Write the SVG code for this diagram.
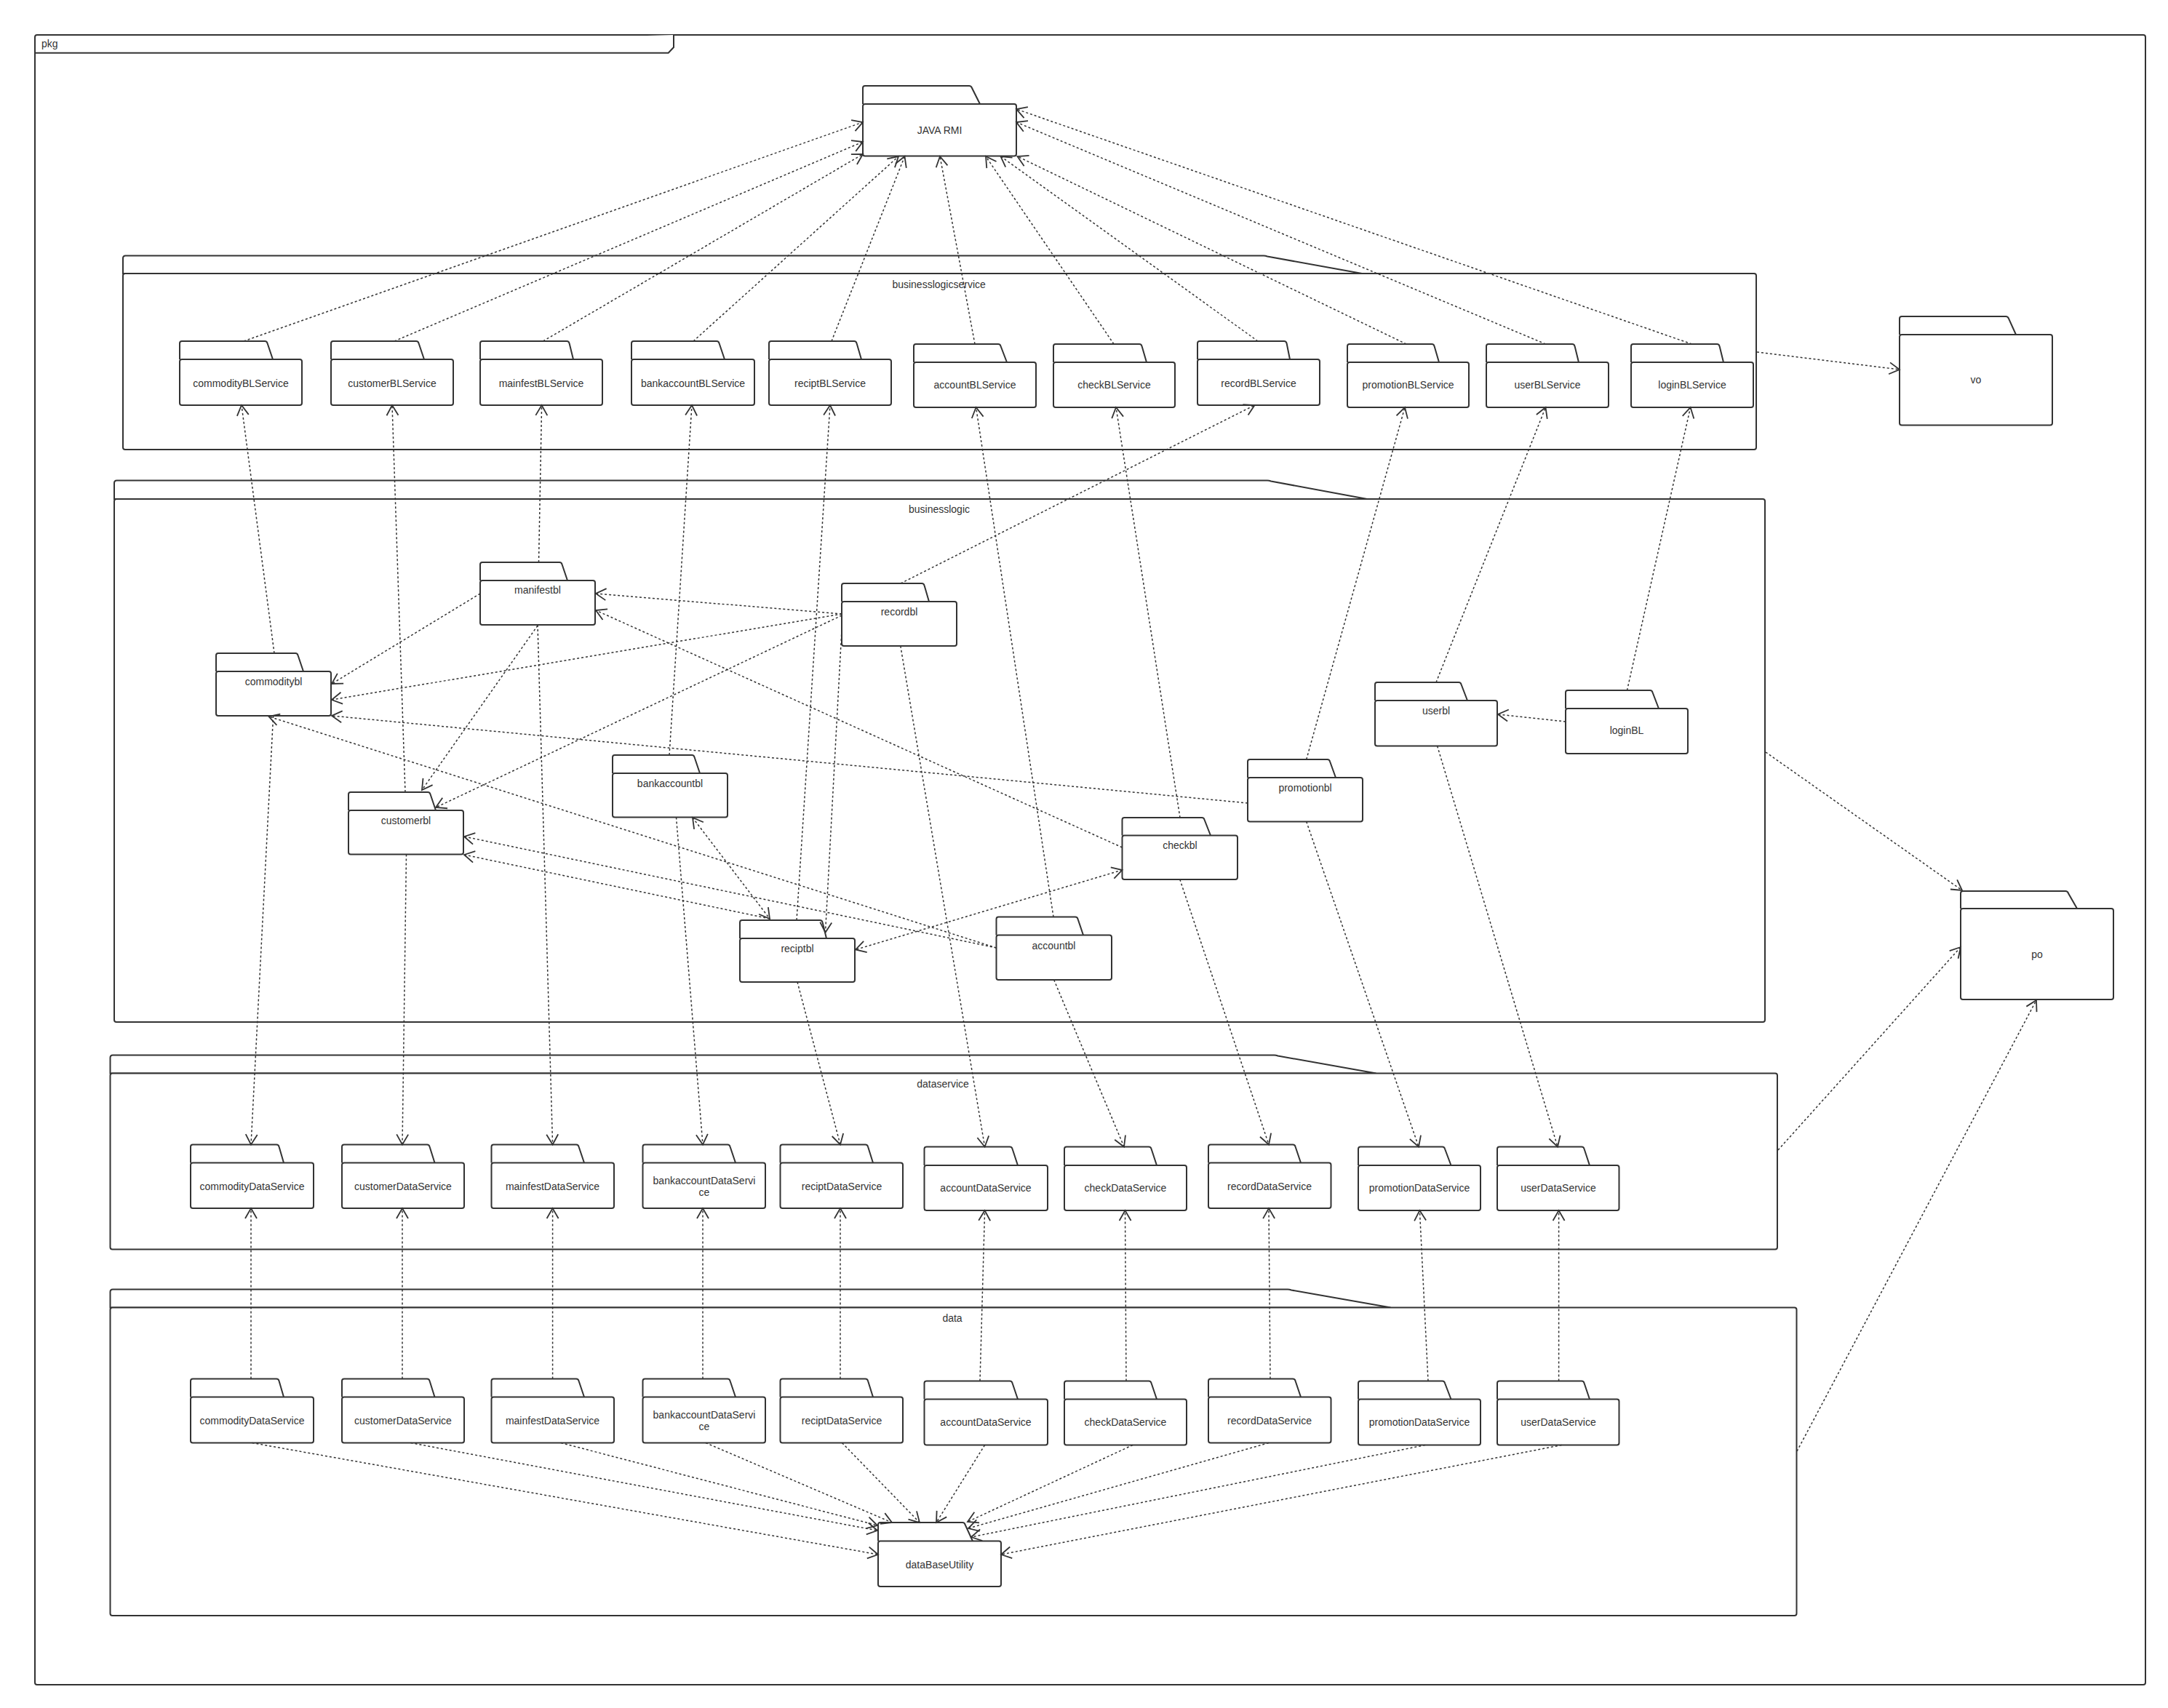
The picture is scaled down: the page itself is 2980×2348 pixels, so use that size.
<svg xmlns="http://www.w3.org/2000/svg" width="2980" height="2348" viewBox="0 0 2980 2348">
<style>
.frame{fill:#fff;stroke:#333;stroke-width:2}
.pk{fill:#fff;stroke:#333;stroke-width:2}
.lbl{font-family:"Liberation Sans",Arial,sans-serif;font-size:14px;fill:#333;text-anchor:middle}
.dep{fill:none;stroke:#333;stroke-width:1.5;stroke-dasharray:3 3;marker-end:url(#arr)}
.bi{marker-start:url(#arr)}
</style>
<defs>
<marker id="arr" markerUnits="userSpaceOnUse" markerWidth="24" markerHeight="24" viewBox="-18 -12 22 24" refX="0" refY="0" orient="auto-start-reverse">
<path d="M-14,-8 L0,0 L-14,8" fill="none" stroke="#333" stroke-width="1.8"/>
</marker>
</defs>
<rect width="2980" height="2348" fill="#fff"/>

<g id="pkg">
<rect class="frame" x="48" y="48" width="2901" height="2268" rx="3"/>
<path class="frame" d="M48,72.7 H918.7 L926,65 V48" fill="none"/>
<text x="57" y="65" class="lbl" style="text-anchor:start">pkg</text>
</g>

<g id="businesslogicservice">
<path class="frame" d="M169,376 V355 Q169,351.5 172.5,351.5 H1737 Q1739.5,351.5 1742,352.5 L1872,376 Z"/>
<rect class="frame" x="169" y="376" width="2245" height="242" rx="3"/>
<text x="1290.6" y="396" class="lbl">businesslogicservice</text>
</g>
<g id="businesslogic">
<path class="frame" d="M157,686 V664 Q157,660.5 160.5,660.5 H1742 Q1744.5,660.5 1747,661.5 L1879,686 Z"/>
<rect class="frame" x="157" y="686" width="2269" height="719" rx="3"/>
<text x="1291" y="705" class="lbl">businesslogic</text>
</g>
<g id="dataservice">
<path class="frame" d="M151.5,1475.5 V1454 Q151.5,1450.5 155,1450.5 H1751.5 Q1754,1450.5 1756.5,1451.5 L1891.5,1475.5 Z"/>
<rect class="frame" x="151.5" y="1475.5" width="2291.5" height="242" rx="3"/>
<text x="1296" y="1495" class="lbl">dataservice</text>
</g>
<g id="data">
<path class="frame" d="M151.5,1797.5 V1776 Q151.5,1772.5 155,1772.5 H1770 Q1772.5,1772.5 1775,1773.5 L1911.5,1797.5 Z"/>
<rect class="frame" x="151.5" y="1797.5" width="2318" height="423.5" rx="3"/>
<text x="1309" y="1817" class="lbl">data</text>
</g>

<!-- top-level nodes -->
<g id="javarmi">
<path class="pk" d="M1186,143 V121 Q1186,118 1189,118 H1332 Q1335,118 1336,121 L1347,143"/>
<rect class="pk" x="1186" y="143" width="211" height="71.5" rx="3"/>
<text x="1291.5" y="184" class="lbl">JAVA RMI</text>
</g>
<g id="vo">
<path class="pk" d="M2611,460 V438 Q2611,435 2614,435 H2757 Q2760,435 2761,438 L2771,460"/>
<rect class="pk" x="2611" y="460" width="210" height="124.5" rx="3"/>
<text x="2716" y="527" class="lbl">vo</text>
</g>
<g id="po">
<path class="pk" d="M2695,1249 V1228 Q2695,1225 2698,1225 H2839 Q2842,1225 2843,1228 L2855,1249"/>
<rect class="pk" x="2695" y="1249" width="210" height="125" rx="3"/>
<text x="2800" y="1317" class="lbl">po</text>
</g>

<!-- businesslogicservice nodes -->
<g id="commodityBLService">
<path class="pk" d="M247,494 V472 Q247,469 250,469 H364 Q367,469 367.6,472 L375,494"/>
<rect class="pk" x="247" y="494" width="168" height="63" rx="3"/>
<text x="331" y="532" class="lbl">commodityBLService</text>
</g>
<g id="customerBLService">
<path class="pk" d="M455,494 V472 Q455,469 458,469 H572 Q575,469 575.6,472 L583,494"/>
<rect class="pk" x="455" y="494" width="168" height="63" rx="3"/>
<text x="539" y="532" class="lbl">customerBLService</text>
</g>
<g id="mainfestBLService">
<path class="pk" d="M660,494 V472 Q660,469 663,469 H779 Q782,469 782.6,472 L788,494"/>
<rect class="pk" x="660" y="494" width="168" height="63" rx="3"/>
<text x="744" y="532" class="lbl">mainfestBLService</text>
</g>
<g id="bankaccountBLService">
<path class="pk" d="M868,494 V472 Q868,469 871,469 H985 Q988,469 988.6,472 L996,494"/>
<rect class="pk" x="868" y="494" width="169" height="63" rx="3"/>
<text x="952.5" y="532" class="lbl">bankaccountBLService</text>
</g>
<g id="reciptBLService">
<path class="pk" d="M1057,494 V472 Q1057,469 1060,469 H1174 Q1177,469 1177.6,472 L1184,494"/>
<rect class="pk" x="1057" y="494" width="168" height="63" rx="3"/>
<text x="1141" y="532" class="lbl">reciptBLService</text>
</g>
<g id="accountBLService">
<path class="pk" d="M1256,498 V476 Q1256,473 1259,473 H1372 Q1375,473 1375.6,476 L1384,498"/>
<rect class="pk" x="1256" y="498" width="168" height="62" rx="3"/>
<text x="1340" y="534" class="lbl">accountBLService</text>
</g>
<g id="checkBLService">
<path class="pk" d="M1448,498 V476 Q1448,473 1451,473 H1566 Q1569,473 1569.6,476 L1576,498"/>
<rect class="pk" x="1448" y="498" width="167" height="62" rx="3"/>
<text x="1531.5" y="534" class="lbl">checkBLService</text>
</g>
<g id="recordBLService">
<path class="pk" d="M1646,494 V472 Q1646,469 1649,469 H1765 Q1768,469 1768.6,472 L1773,494"/>
<rect class="pk" x="1646" y="494" width="168" height="63" rx="3"/>
<text x="1730" y="532" class="lbl">recordBLService</text>
</g>
<g id="promotionBLService">
<path class="pk" d="M1852,498 V476 Q1852,473 1855,473 H1968 Q1971,473 1971.6,476 L1978,498"/>
<rect class="pk" x="1852" y="498" width="167" height="62" rx="3"/>
<text x="1935.5" y="534" class="lbl">promotionBLService</text>
</g>
<g id="userBLService">
<path class="pk" d="M2043,498 V476 Q2043,473 2046,473 H2161 Q2164,473 2164.6,476 L2170,498"/>
<rect class="pk" x="2043" y="498" width="168" height="62" rx="3"/>
<text x="2127" y="534" class="lbl">userBLService</text>
</g>
<g id="loginBLService">
<path class="pk" d="M2242,498 V476 Q2242,473 2245,473 H2360 Q2363,473 2363.6,476 L2369,498"/>
<rect class="pk" x="2242" y="498" width="168" height="62" rx="3"/>
<text x="2326" y="534" class="lbl">loginBLService</text>
</g>

<!-- businesslogic nodes -->
<g id="manifestbl">
<path class="pk" d="M660,798 V776 Q660,773 663,773 H769 Q772,773 772.6,776 L780,798"/>
<rect class="pk" x="660" y="798" width="158" height="61" rx="3"/>
<text x="739" y="816" class="lbl">manifestbl</text>
</g>
<g id="commoditybl">
<path class="pk" d="M297,923 V901 Q297,898 300,898 H406 Q409,898 409.6,901 L417,923"/>
<rect class="pk" x="297" y="923" width="158" height="61" rx="3"/>
<text x="376" y="942" class="lbl">commoditybl</text>
</g>
<g id="customerbl">
<path class="pk" d="M479,1114 V1092 Q479,1089 482,1089 H588 Q591,1089 591.6,1092 L599,1114"/>
<rect class="pk" x="479" y="1114" width="158" height="60.5" rx="3"/>
<text x="558" y="1132.5" class="lbl">customerbl</text>
</g>
<g id="bankaccountbl">
<path class="pk" d="M842,1063 V1041 Q842,1038 845,1038 H951 Q954,1038 954.6,1041 L962,1063"/>
<rect class="pk" x="842" y="1063" width="158" height="60.5" rx="3"/>
<text x="921" y="1081.5" class="lbl">bankaccountbl</text>
</g>
<g id="reciptbl">
<path class="pk" d="M1017,1290 V1268 Q1017,1265 1020,1265 H1127 Q1130,1265 1130.6,1268 L1136,1290"/>
<rect class="pk" x="1017" y="1290" width="158" height="60" rx="3"/>
<text x="1096" y="1309" class="lbl">reciptbl</text>
</g>
<g id="recordbl">
<path class="pk" d="M1157,827 V805 Q1157,802 1160,802 H1267 Q1270,802 1270.6,805 L1277,827"/>
<rect class="pk" x="1157" y="827" width="158" height="61" rx="3"/>
<text x="1236" y="846" class="lbl">recordbl</text>
</g>
<g id="userbl">
<path class="pk" d="M1890,963 V941 Q1890,938 1893,938 H2005 Q2008,938 2008.6,941 L2017,963"/>
<rect class="pk" x="1890" y="963" width="168" height="62.5" rx="3"/>
<text x="1974" y="981.5" class="lbl">userbl</text>
</g>
<g id="loginBL">
<path class="pk" d="M2152,974 V952 Q2152,949 2155,949 H2268 Q2271,949 2271.6,952 L2280,974"/>
<rect class="pk" x="2152" y="974" width="168" height="62" rx="3"/>
<text x="2236" y="1009" class="lbl">loginBL</text>
</g>
<g id="promotionbl">
<path class="pk" d="M1715,1069 V1047 Q1715,1044 1718,1044 H1824.5 Q1827.5,1044 1828.1,1047 L1836,1069"/>
<rect class="pk" x="1715" y="1069" width="158" height="60.5" rx="3"/>
<text x="1794" y="1087.5" class="lbl">promotionbl</text>
</g>
<g id="checkbl">
<path class="pk" d="M1542.5,1148.5 V1127 Q1542.5,1124 1545.5,1124 H1652 Q1655,1124 1655.6,1127 L1664,1148.5"/>
<rect class="pk" x="1542.5" y="1148.5" width="158.5" height="60.5" rx="3"/>
<text x="1622" y="1167" class="lbl">checkbl</text>
</g>
<g id="accountbl">
<path class="pk" d="M1369.5,1285.5 V1263.5 Q1369.5,1260.5 1372.5,1260.5 H1478 Q1481,1260.5 1481.6,1263.5 L1489,1285.5"/>
<rect class="pk" x="1369.5" y="1285.5" width="158.5" height="61.5" rx="3"/>
<text x="1448.5" y="1304.5" class="lbl">accountbl</text>
</g>

<!-- dataservice nodes -->
<g id="ds-commodityDataService">
<path class="pk" d="M262,1598.5 V1576.5 Q262,1573.5 265,1573.5 H380 Q383,1573.5 383.6,1576.5 L390,1598.5"/>
<rect class="pk" x="262" y="1598.5" width="169" height="62.5" rx="3"/>
<text x="346.5" y="1636" class="lbl">commodityDataService</text>
</g>
<g id="ds-customerDataService">
<path class="pk" d="M470,1598.5 V1576.5 Q470,1573.5 473,1573.5 H587 Q590,1573.5 590.6,1576.5 L597.5,1598.5"/>
<rect class="pk" x="470" y="1598.5" width="168" height="62.5" rx="3"/>
<text x="554" y="1636" class="lbl">customerDataService</text>
</g>
<g id="ds-mainfestDataService">
<path class="pk" d="M675.5,1598.5 V1576.5 Q675.5,1573.5 678.5,1573.5 H792 Q795,1573.5 795.6,1576.5 L803,1598.5"/>
<rect class="pk" x="675.5" y="1598.5" width="168.5" height="62.5" rx="3"/>
<text x="759.5" y="1636" class="lbl">mainfestDataService</text>
</g>
<g id="ds-bankaccountDataService">
<path class="pk" d="M883.5,1598.5 V1576.5 Q883.5,1573.5 886.5,1573.5 H1000 Q1003,1573.5 1003.6,1576.5 L1011,1598.5"/>
<rect class="pk" x="883.5" y="1598.5" width="168.5" height="62.5" rx="3"/>
<text x="968" y="1628" class="lbl">bankaccountDataServi</text>
<text x="968" y="1644" class="lbl">ce</text>
</g>
<g id="ds-reciptDataService">
<path class="pk" d="M1072.5,1598.5 V1576.5 Q1072.5,1573.5 1075.5,1573.5 H1189.5 Q1192.5,1573.5 1193.1,1576.5 L1200,1598.5"/>
<rect class="pk" x="1072.5" y="1598.5" width="168.5" height="62.5" rx="3"/>
<text x="1157" y="1636" class="lbl">reciptDataService</text>
</g>
<g id="ds-accountDataService">
<path class="pk" d="M1270.5,1602 V1579.5 Q1270.5,1576.5 1273.5,1576.5 H1388 Q1391,1576.5 1391.6,1579.5 L1399,1602"/>
<rect class="pk" x="1270.5" y="1602" width="169.5" height="62" rx="3"/>
<text x="1355" y="1637.5" class="lbl">accountDataService</text>
</g>
<g id="ds-checkDataService">
<path class="pk" d="M1463,1602 V1579.5 Q1463,1576.5 1466,1576.5 H1579 Q1582,1576.5 1582.6,1579.5 L1590,1602"/>
<rect class="pk" x="1463" y="1602" width="168" height="62" rx="3"/>
<text x="1547" y="1637.5" class="lbl">checkDataService</text>
</g>
<g id="ds-recordDataService">
<path class="pk" d="M1661,1598.5 V1576.5 Q1661,1573.5 1664,1573.5 H1777 Q1780,1573.5 1780.6,1576.5 L1788,1598.5"/>
<rect class="pk" x="1661" y="1598.5" width="168.5" height="62.5" rx="3"/>
<text x="1745" y="1636" class="lbl">recordDataService</text>
</g>
<g id="ds-promotionDataService">
<path class="pk" d="M1867,1602 V1579.5 Q1867,1576.5 1870,1576.5 H1982.5 Q1985.5,1576.5 1986.1,1579.5 L1994.5,1602"/>
<rect class="pk" x="1867" y="1602" width="168" height="62" rx="3"/>
<text x="1951" y="1637.5" class="lbl">promotionDataService</text>
</g>
<g id="ds-userDataService">
<path class="pk" d="M2058,1602 V1579.5 Q2058,1576.5 2061,1576.5 H2174 Q2177,1576.5 2177.6,1579.5 L2185,1602"/>
<rect class="pk" x="2058" y="1602" width="167.5" height="62" rx="3"/>
<text x="2142" y="1637.5" class="lbl">userDataService</text>
</g>

<!-- data nodes -->
<g id="d-commodityDataService">
<path class="pk" d="M262,1920.5 V1898.5 Q262,1895.5 265,1895.5 H380 Q383,1895.5 383.6,1898.5 L390,1920.5"/>
<rect class="pk" x="262" y="1920.5" width="169" height="63" rx="3"/>
<text x="346.5" y="1958" class="lbl">commodityDataService</text>
</g>
<g id="d-customerDataService">
<path class="pk" d="M470,1920.5 V1898.5 Q470,1895.5 473,1895.5 H587 Q590,1895.5 590.6,1898.5 L597.5,1920.5"/>
<rect class="pk" x="470" y="1920.5" width="168" height="63" rx="3"/>
<text x="554" y="1958" class="lbl">customerDataService</text>
</g>
<g id="d-mainfestDataService">
<path class="pk" d="M675.5,1920.5 V1898.5 Q675.5,1895.5 678.5,1895.5 H792 Q795,1895.5 795.6,1898.5 L803,1920.5"/>
<rect class="pk" x="675.5" y="1920.5" width="168.5" height="63" rx="3"/>
<text x="759.5" y="1958" class="lbl">mainfestDataService</text>
</g>
<g id="d-bankaccountDataService">
<path class="pk" d="M883.5,1920.5 V1898.5 Q883.5,1895.5 886.5,1895.5 H1000 Q1003,1895.5 1003.6,1898.5 L1011,1920.5"/>
<rect class="pk" x="883.5" y="1920.5" width="168.5" height="63" rx="3"/>
<text x="968" y="1950" class="lbl">bankaccountDataServi</text>
<text x="968" y="1966" class="lbl">ce</text>
</g>
<g id="d-reciptDataService">
<path class="pk" d="M1072.5,1920.5 V1898.5 Q1072.5,1895.5 1075.5,1895.5 H1189.5 Q1192.5,1895.5 1193.1,1898.5 L1200,1920.5"/>
<rect class="pk" x="1072.5" y="1920.5" width="168.5" height="63" rx="3"/>
<text x="1157" y="1958" class="lbl">reciptDataService</text>
</g>
<g id="d-accountDataService">
<path class="pk" d="M1270.5,1923.5 V1901.5 Q1270.5,1898.5 1273.5,1898.5 H1388 Q1391,1898.5 1391.6,1901.5 L1399,1923.5"/>
<rect class="pk" x="1270.5" y="1923.5" width="169.5" height="63" rx="3"/>
<text x="1355" y="1960" class="lbl">accountDataService</text>
</g>
<g id="d-checkDataService">
<path class="pk" d="M1463,1923.5 V1901.5 Q1463,1898.5 1466,1898.5 H1579 Q1582,1898.5 1582.6,1901.5 L1590,1923.5"/>
<rect class="pk" x="1463" y="1923.5" width="168" height="63" rx="3"/>
<text x="1547" y="1960" class="lbl">checkDataService</text>
</g>
<g id="d-recordDataService">
<path class="pk" d="M1661,1920.5 V1898.5 Q1661,1895.5 1664,1895.5 H1777 Q1780,1895.5 1780.6,1898.5 L1788,1920.5"/>
<rect class="pk" x="1661" y="1920.5" width="168.5" height="63" rx="3"/>
<text x="1745" y="1958" class="lbl">recordDataService</text>
</g>
<g id="d-promotionDataService">
<path class="pk" d="M1867,1923.5 V1901.5 Q1867,1898.5 1870,1898.5 H1982.5 Q1985.5,1898.5 1986.1,1901.5 L1994.5,1923.5"/>
<rect class="pk" x="1867" y="1923.5" width="168" height="63" rx="3"/>
<text x="1951" y="1960" class="lbl">promotionDataService</text>
</g>
<g id="d-userDataService">
<path class="pk" d="M2058,1923.5 V1901.5 Q2058,1898.5 2061,1898.5 H2174 Q2177,1898.5 2177.6,1901.5 L2185,1923.5"/>
<rect class="pk" x="2058" y="1923.5" width="167.5" height="63" rx="3"/>
<text x="2142" y="1960" class="lbl">userDataService</text>
</g>
<g id="dataBaseUtility">
<path class="pk" d="M1207,2118.5 V2096 Q1207,2093 1210,2093 H1323 Q1326,2093 1326.6,2096 L1337,2118.5"/>
<rect class="pk" x="1207" y="2118.5" width="169" height="62.5" rx="3"/>
<text x="1291.5" y="2155.5" class="lbl">dataBaseUtility</text>
</g>

<g id="connectors">
<!-- BL services to JAVA RMI -->
<path class="dep" d="M335,469 L1186,168"/>
<path class="dep" d="M542,469 L1186,195"/>
<path class="dep" d="M746.5,469 L1186,212"/>
<path class="dep" d="M953,469 L1235,215"/>
<path class="dep" d="M1143,469 L1243.5,215"/>
<path class="dep" d="M1340,473 L1292,215"/>
<path class="dep" d="M1531,473 L1355,215"/>
<path class="dep" d="M1729,469 L1375.5,215"/>
<path class="dep" d="M1933,473 L1398.5,215"/>
<path class="dep" d="M2124.5,473 L1397,168"/>
<path class="dep" d="M2325.5,473 L1397,150"/>
<!-- containers to vo / po -->
<path class="dep" d="M2415,484 L2611,508"/>
<path class="dep" d="M2427,1034 L2697,1224"/>
<path class="dep" d="M2444,1581 L2695,1302"/>
<path class="dep" d="M2470,1995 L2799,1375"/>
<!-- bl to BL services -->
<path class="dep" d="M377,898 L332,557"/>
<path class="dep" d="M557,1089 L539,557"/>
<path class="dep" d="M740.5,773 L744.6,557"/>
<path class="dep" d="M920,1038 L951,557"/>
<path class="dep" d="M1095,1265 L1141,557"/>
<path class="dep" d="M1448,1260.5 L1341.6,560"/>
<path class="dep" d="M1622,1124 L1534,560"/>
<path class="dep" d="M1238,802 L1724.5,557"/>
<path class="dep" d="M1795.7,1044 L1931,560"/>
<path class="dep" d="M1974,938 L2124.5,560"/>
<path class="dep" d="M2236.5,949 L2323.6,560"/>
<!-- bl to dataservice -->
<path class="dep" d="M375.6,984 L345,1573.5"/>
<path class="dep" d="M558.5,1174.5 L553,1573.5"/>
<path class="dep" d="M739,859 L759.6,1573.5"/>
<path class="dep" d="M929.5,1123.5 L966,1573.5"/>
<path class="dep" d="M1096,1350 L1155,1573.5"/>
<path class="dep" d="M1237.8,888 L1353.6,1576.5"/>
<path class="dep" d="M1448.7,1347 L1545,1576.5"/>
<path class="dep" d="M1621.8,1209 L1744,1573.5"/>
<path class="dep" d="M1795.7,1129.5 L1950,1576.5"/>
<path class="dep" d="M1975.6,1025.5 L2141,1576.5"/>
<!-- data to dataservice -->
<path class="dep" d="M345,1895.5 L345,1661"/>
<path class="dep" d="M553,1895.5 L553,1661"/>
<path class="dep" d="M759.6,1895.5 L759.6,1661"/>
<path class="dep" d="M966,1895.5 L966,1661"/>
<path class="dep" d="M1155,1895.5 L1155,1661"/>
<path class="dep" d="M1347,1898.5 L1353.6,1664"/>
<path class="dep" d="M1548,1898.5 L1546.5,1664"/>
<path class="dep" d="M1746,1895.5 L1744,1661"/>
<path class="dep" d="M1963,1898.5 L1951.4,1664"/>
<path class="dep" d="M2142.6,1898.5 L2142.6,1664"/>
<!-- data to dataBaseUtility -->
<path class="dep" d="M346.5,1983.5 L1207,2137"/>
<path class="dep" d="M564.6,1983.5 L1206,2104"/>
<path class="dep" d="M771,1983.5 L1206,2097"/>
<path class="dep" d="M970,1983.5 L1226,2093"/>
<path class="dep" d="M1157.5,1983.5 L1264,2093"/>
<path class="dep" d="M1353.6,1986.5 L1287,2093"/>
<path class="dep" d="M1557,1986.5 L1330,2092"/>
<path class="dep" d="M1744,1983.5 L1331,2101"/>
<path class="dep" d="M1959,1986.5 L1335,2113"/>
<path class="dep" d="M2146.6,1986.5 L1376,2137"/>
<!-- inside businesslogic -->
<path class="dep" d="M660,816 L456,940"/>
<path class="dep" d="M1157,844 L819,816"/>
<path class="dep" d="M1157,844 L456,962"/>
<path class="dep" d="M1157,846 L599,1110"/>
<path class="dep" d="M739,860 L580,1086"/>
<path class="dep" d="M1542.5,1165 L819,839"/>
<path class="dep" d="M1715,1104 L456,984"/>
<path class="dep" d="M1369.5,1303 L369.5,985"/>
<path class="dep" d="M1369.5,1303 L638,1150"/>
<path class="dep" d="M1058,1263 L638,1175"/>
<path class="dep bi" d="M952,1124 L1058,1263"/>
<path class="dep" d="M1157,866 L1134.5,1282"/>
<path class="dep bi" d="M1542.5,1196 L1176,1305.5"/>
<path class="dep" d="M2152,992 L2059,982"/>
</g>
</svg>
